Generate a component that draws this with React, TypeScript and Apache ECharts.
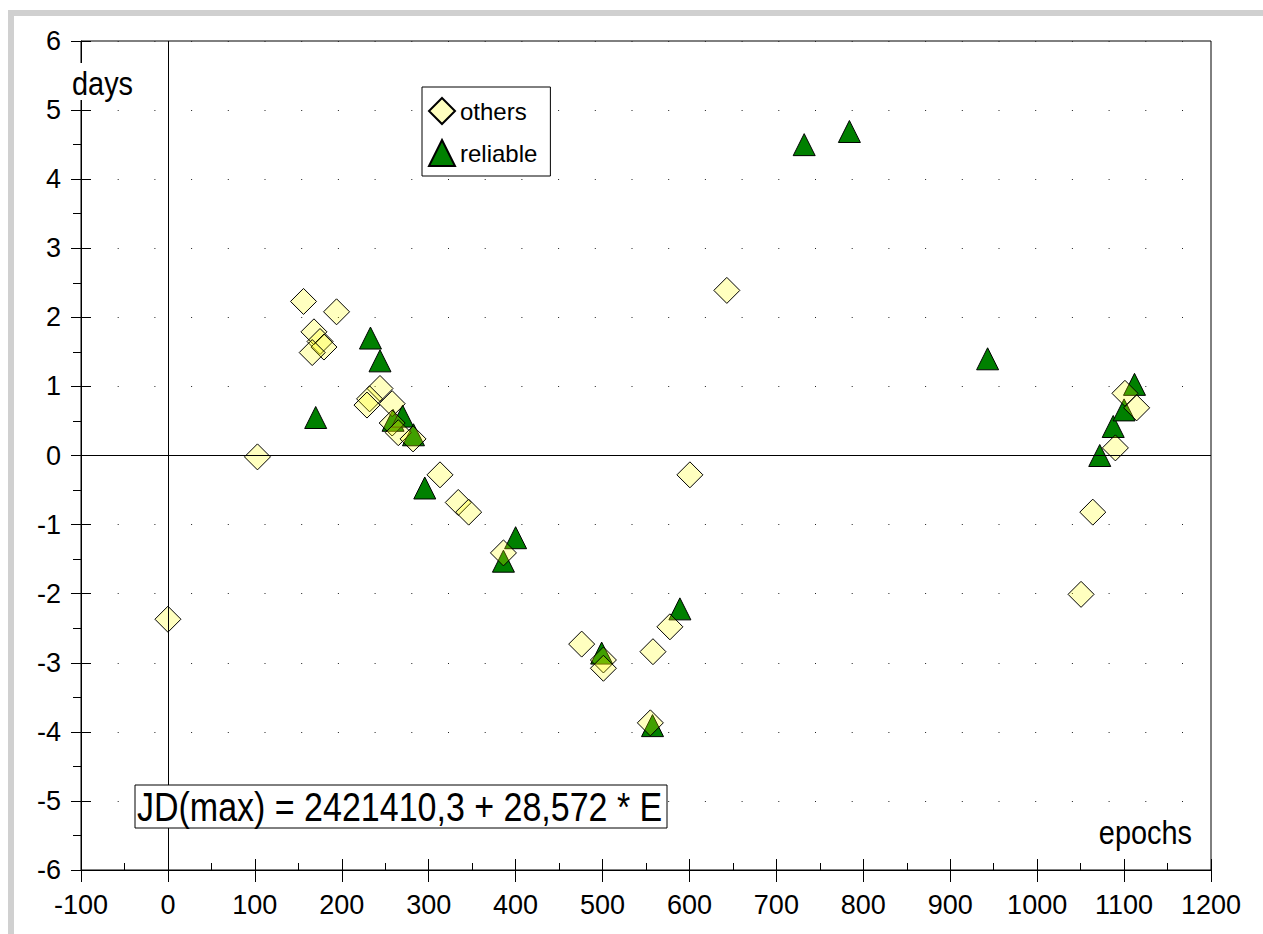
import React, { useEffect, useRef } from "react";
import * as echarts from "echarts";

const FONT = "'Liberation Sans', Arial, sans-serif";

const xTicks = { min: -100, max: 1200, step: 100 };
const yTicks = { min: -6, max: 6, step: 1 };

const othersData: [number, number][] = [
  [0, -2.37], [103, -0.02], [156, 2.23], [194, 2.08], [168, 1.79], [175, 1.65],
  [179.5, 1.57], [166, 1.49], [244, 0.97], [232, 0.82], [229, 0.73], [258, 0.75],
  [258, 0.47], [265, 0.33], [282, 0.24], [313, -0.28], [334, -0.68], [346, -0.82],
  [386, -1.41], [476, -2.73], [501, -2.96], [501, -3.08], [558, -2.84], [577.5, -2.48],
  [555, -3.87], [600.5, -0.28], [643, 2.39], [1050.5, -2.01], [1064, -0.82],
  [1090, 0.11], [1101, 0.9], [1114.5, 0.69],
];

const reliableData: [number, number][] = [
  [170, 0.55], [233, 1.7], [244, 1.37], [259, 0.51], [270, 0.57], [282.5, 0.3],
  [295.5, -0.47], [386, -1.53], [400, -1.19], [499, -2.86], [557.5, -3.91],
  [589, -2.22], [732, 4.5], [784, 4.69], [943, 1.4], [1072, 0.0], [1087.5, 0.42],
  [1100, 0.66], [1112, 1.03],
];

const seriesNames = ["others", "reliable"];
const equationText = "JD(max) = 2421410,3 + 28,572 * E";
const yAxisName = "days";
const xAxisName = "epochs";

export default function App() {
  const ref = useRef<HTMLDivElement>(null);
  useEffect(() => {
    if (!ref.current) return;
    const chart = echarts.init(ref.current, null, { renderer: "svg" });
    const black = "#000";
    const plain = (v: number) => String(v);
    chart.setOption({
      animation: false,
      backgroundColor: "#fff",
      grid: {
        left: 81, top: 41, right: 52, bottom: 64,
        show: true, borderColor: black, borderWidth: 1, backgroundColor: "transparent",
      },
      legend: {
        data: seriesNames,
        orient: "vertical",
        left: 422, top: 87,
        padding: [10, 13, 9, 6],
        itemWidth: 26, itemHeight: 26, itemGap: 14,
        backgroundColor: "#fff", borderColor: black, borderWidth: 1, borderRadius: 0,
        textStyle: { fontFamily: FONT, fontSize: 24, color: black, lineHeight: 26 },
      },
      xAxis: [
        {
          type: "value", min: xTicks.min, max: xTicks.max, interval: xTicks.step, position: "bottom",
          axisLine: { show: true, onZero: false, lineStyle: { color: black, width: 1 } },
          axisTick: { show: true, inside: false, length: 12, lineStyle: { color: black } },
          minorTick: { show: false },
          axisLabel: { fontFamily: FONT, fontSize: 27, color: black, margin: 21, formatter: plain },
          splitLine: { show: false },
        },
        {
          type: "value", min: xTicks.min, max: xTicks.max, interval: xTicks.step, position: "bottom",
          axisLine: { show: false, onZero: false },
          axisTick: { show: true, inside: true, length: 11, lineStyle: { color: black } },
          minorTick: { show: true, splitNumber: 2, length: 7, lineStyle: { color: black } },
          axisLabel: { show: false },
          splitLine: { show: false },
        },
      ],
      yAxis: [
        {
          type: "value", min: yTicks.min, max: yTicks.max, interval: yTicks.step, position: "left",
          axisLine: { show: true, onZero: false, lineStyle: { color: black, width: 1 } },
          axisTick: { show: true, inside: false, length: 10, lineStyle: { color: black } },
          minorTick: { show: true, splitNumber: 2, length: 8, lineStyle: { color: black } },
          axisLabel: { fontFamily: FONT, fontSize: 27, color: black, margin: 20, formatter: plain },
          splitLine: { show: true, lineStyle: { color: "#222", width: 1, type: [1, 35.7] } },
        },
        {
          type: "value", min: yTicks.min, max: yTicks.max, interval: yTicks.step, position: "left",
          axisLine: { show: false, onZero: false },
          axisTick: { show: true, inside: true, length: 10, lineStyle: { color: black } },
          axisLabel: { show: false },
          splitLine: { show: false },
        },
      ],
      series: [
        {
          name: seriesNames[1], type: "scatter", xAxisIndex: 0, yAxisIndex: 0,
          symbol: "triangle", symbolSize: 22,
          itemStyle: { color: "#008000", borderColor: black, borderWidth: 1, opacity: 1 },
          data: reliableData,
          markLine: {
            silent: true, symbol: ["none", "none"], label: { show: false },
            lineStyle: { color: black, width: 1, type: "solid" },
            emphasis: { disabled: true },
            data: [{ xAxis: 0 }, { yAxis: 0 }],
          },
          z: 2,
        },
        {
          name: seriesNames[0], type: "scatter", xAxisIndex: 0, yAxisIndex: 0,
          symbol: "diamond", symbolSize: 26,
          itemStyle: { color: "rgba(255,255,0,0.25)", borderColor: black, borderWidth: 1, opacity: 1 },
          data: othersData,
          z: 3,
        },
      ],
      graphic: [
        { type: "rect", z: 10, shape: { x: 8, y: 10, width: 1255, height: 6 }, style: { fill: "#d0d0d0" } },
        { type: "rect", z: 10, shape: { x: 8, y: 10, width: 6, height: 924 }, style: { fill: "#d0d0d0" } },
        { type: "rect", z: 10, shape: { x: 71, y: 63, width: 64, height: 37 }, style: { fill: "#fff" } },
        {
          type: "text", z: 11, x: 72, y: 83, scaleX: 0.85,
          style: { text: yAxisName, font: `34px ${FONT}`, fill: black, verticalAlign: "middle", align: "left" },
        },
        {
          type: "text", z: 11, x: 1192, y: 832, scaleX: 0.85,
          style: { text: xAxisName, font: `34px ${FONT}`, fill: black, verticalAlign: "middle", align: "right" },
        },
        {
          type: "rect", z: 10, shape: { x: 135, y: 785, width: 532, height: 43 },
          style: { fill: "#fff", stroke: black, lineWidth: 1 },
        },
        {
          type: "text", z: 11, x: 137, y: 807, scaleX: 0.85,
          style: { text: equationText, font: `40px ${FONT}`, fill: black, verticalAlign: "middle", align: "left" },
        },
      ],
    });
    return () => chart.dispose();
  }, []);
  return (
    <div
      ref={ref}
      style={{ position: "absolute", left: 0, top: 0, width: 1263, height: 934 }}
    />
  );
}
